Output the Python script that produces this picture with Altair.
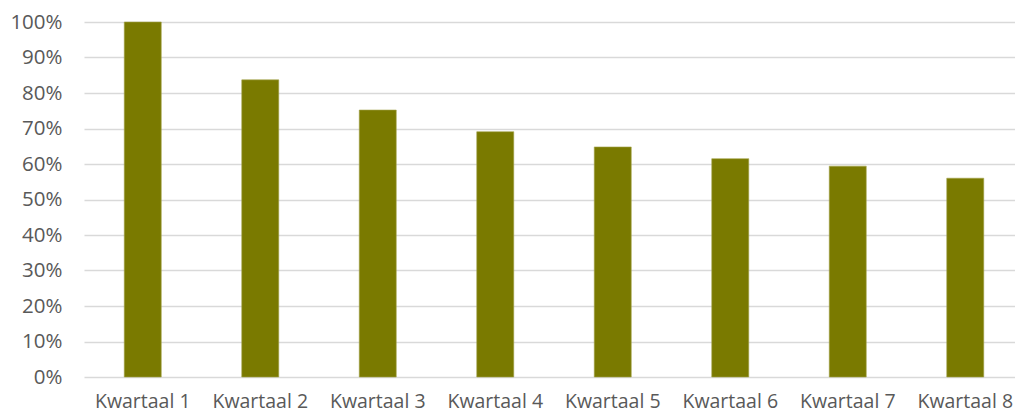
import altair as alt
import pandas as pd

categories = ["Kwartaal 1", "Kwartaal 2", "Kwartaal 3", "Kwartaal 4",
              "Kwartaal 5", "Kwartaal 6", "Kwartaal 7", "Kwartaal 8"]
values = [1.00, 0.837, 0.752, 0.691, 0.648, 0.615, 0.594, 0.560]
y_ticks = [0, 0.1, 0.2, 0.3, 0.4, 0.5, 0.6, 0.7, 0.8, 0.9, 1.0]

df = pd.DataFrame({"cat": categories, "val": values})

FONT = "Open Sans"
GREY = "#595959"

chart = alt.Chart(df).mark_bar(
    size=37, color="#7a7a00", stroke="#a3a34a", strokeWidth=0.6
).encode(
    x=alt.X("cat:N", sort=categories, title=None,
            scale=alt.Scale(range=[0, 940], paddingInner=0.686, paddingOuter=0.343),
            axis=alt.Axis(labelAngle=0, labelFont=FONT, labelFontSize=19.5,
                          labelColor=GREY, ticks=False, domain=False,
                          labelPadding=15, grid=False)),
    y=alt.Y("val:Q", title=None,
            scale=alt.Scale(domain=[0, 1], nice=False),
            axis=alt.Axis(values=y_ticks, format=".0%", labelFont=FONT,
                          labelFontSize=20.5, labelColor=GREY, ticks=False,
                          domain=False, labelPadding=22, gridColor="#d9d9d9",
                          gridWidth=1.5)),
).properties(
    width=931, height=355,
    autosize=alt.AutoSizeParams(type="none"),
    padding={"left": 76, "top": 14, "right": 0, "bottom": 38},
).configure_view(stroke=None)

chart.save("out.html", embed_options={"renderer": "svg", "actions": False})
